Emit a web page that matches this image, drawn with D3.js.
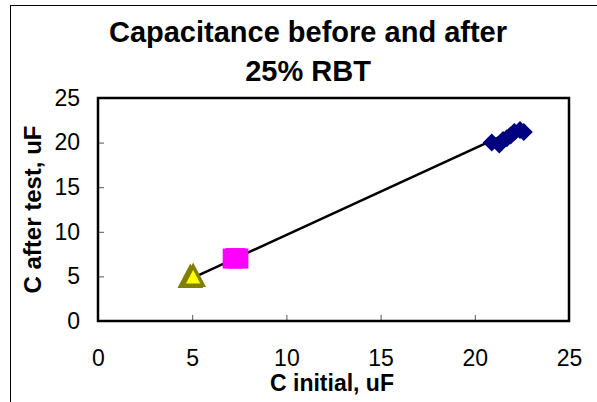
<!DOCTYPE html>
<html>
<head>
<meta charset="utf-8">
<script src="https://cdn.jsdelivr.net/npm/d3@7"></script>
<style>
  body { margin: 0; background: #fff; }
  text { font-family: Arial, "Liberation Sans", sans-serif; }
</style>
</head>
<body>
<svg width="597" height="402"></svg>
<script>
// values
var diamondX = [20.9, 21.3, 21.5, 21.7, 21.9, 22.1, 22.4, 22.6];
var diamondY = [20.0, 19.8, 20.3, 20.5, 20.8, 21.2, 21.4, 21.2];
var squareX = [7.15, 7.3, 7.45];
var squareY = [7.0, 7.05, 7.0];
var triangleX = [4.9, 5.05];
var triangleY = [4.8, 4.9];
var lineX = [5.0, 22.0];
var lineY = [4.8, 21.3];
var xTicks = [0, 5, 10, 15, 20, 25];
var yTicks = [0, 5, 10, 15, 20, 25];

var svg = d3.select("svg");
var plot = { left: 98, right: 569, top: 98, bottom: 321 };

var x = d3.scaleLinear().domain([0, 25]).range([plot.left, plot.right]);
var y = d3.scaleLinear().domain([0, 25]).range([plot.bottom, plot.top]);

// outer chart frame (runs off the right and bottom edges)
svg.append("rect")
  .attr("x", 10.5).attr("y", 5.5)
  .attr("width", 700).attr("height", 500)
  .attr("fill", "none").attr("stroke", "#000").attr("stroke-width", 1);

// title
svg.append("text")
  .attr("x", 308).attr("y", 42)
  .attr("text-anchor", "middle")
  .style("font-size", "29px").style("font-weight", "bold")
  .text("Capacitance before and after");
svg.append("text")
  .attr("x", 308).attr("y", 81)
  .attr("text-anchor", "middle")
  .style("font-size", "29px").style("font-weight", "bold")
  .text("25% RBT");

// axes with inward ticks
var xAxis = svg.append("g")
  .attr("transform", "translate(0," + plot.bottom + ")")
  .call(d3.axisBottom(x).tickValues(xTicks).tickSizeInner(-6).tickSizeOuter(0).tickPadding(29));
var yAxis = svg.append("g")
  .attr("transform", "translate(" + plot.left + ",0)")
  .call(d3.axisLeft(y).tickValues(yTicks).tickSizeInner(-6).tickSizeOuter(0).tickPadding(18));

[xAxis, yAxis].forEach(function(g) {
  g.select(".domain").remove();
  g.selectAll(".tick line").attr("stroke", "#555").attr("stroke-width", 1);
  g.selectAll(".tick text")
    .attr("fill", "#000")
    .style("font-family", "Arial, 'Liberation Sans', sans-serif")
    .style("font-size", "23px");
});
xAxis.selectAll(".tick line").filter(function(d) { return d === 0 || d === 25; }).remove();
yAxis.selectAll(".tick line").filter(function(d) { return d === 0 || d === 25; }).remove();

// plot area border
svg.append("rect")
  .attr("x", plot.left).attr("y", plot.top)
  .attr("width", plot.right - plot.left).attr("height", plot.bottom - plot.top)
  .attr("fill", "none").attr("stroke", "#000").attr("stroke-width", 2.5);

// axis titles
svg.append("text")
  .attr("x", 332).attr("y", 391)
  .attr("text-anchor", "middle")
  .style("font-size", "23px").style("font-weight", "bold")
  .text("C initial, uF");
svg.append("text")
  .attr("transform", "translate(41," + ((plot.top + plot.bottom) / 2) + ") rotate(-90)")
  .attr("text-anchor", "middle")
  .style("font-size", "24px").style("font-weight", "bold")
  .text("C after test, uF");

// trend line
svg.append("line")
  .attr("x1", x(lineX[0])).attr("y1", y(lineY[0]))
  .attr("x2", x(lineX[1])).attr("y2", y(lineY[1]))
  .attr("stroke", "#000").attr("stroke-width", 2.5);

// markers
svg.append("g").selectAll("path")
  .data(triangleX.map(function(v, i) { return [v, triangleY[i]]; }))
  .enter().append("path")
  .attr("transform", function(d) { return "translate(" + x(d[0]) + "," + y(d[1]) + ")"; })
  .attr("d", "M0,-11 L10,8 L-10,8 Z")
  .attr("fill", "#ffff00").attr("stroke", "#808000").attr("stroke-width", 3.5)
  .attr("stroke-linejoin", "miter");

svg.append("g").selectAll("rect")
  .data(squareX.map(function(v, i) { return [v, squareY[i]]; }))
  .enter().append("rect")
  .attr("x", function(d) { return x(d[0]) - 10; })
  .attr("y", function(d) { return y(d[1]) - 10; })
  .attr("width", 20).attr("height", 20)
  .attr("fill", "#ff00ff");

svg.append("g").selectAll("path")
  .data(diamondX.map(function(v, i) { return [v, diamondY[i]]; }))
  .enter().append("path")
  .attr("transform", function(d) { return "translate(" + x(d[0]) + "," + y(d[1]) + ")"; })
  .attr("d", "M0,-9 L9,0 L0,9 L-9,0 Z")
  .attr("fill", "#000080");
</script>
</body>
</html>
